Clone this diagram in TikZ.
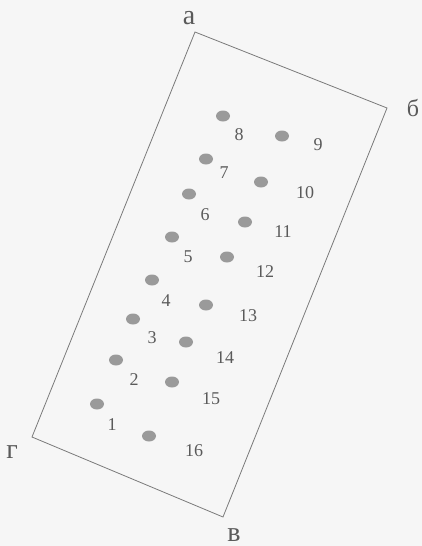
\documentclass[tikz,border=0pt]{standalone}
\usepackage{fontspec}
\setmainfont{Liberation Serif}
\usetikzlibrary{shapes.geometric}
\definecolor{Paper}{HTML}{F6F6F6}
\definecolor{Ink}{HTML}{5A5A5A}
\definecolor{Edge}{HTML}{7A7A7A}
\definecolor{Hole}{HTML}{9A9A9A}

\begin{document}
\begin{tikzpicture}[
  x=1pt,y=-1pt,
  hole/.style={ellipse,fill=Hole,draw=none,minimum width=14pt,minimum height=11pt,inner sep=0pt},
  num/.style={text=Ink,font=\fontsize{18}{18}\selectfont,inner sep=0pt},
  corner/.style={text=Ink,font=\fontsize{28}{28}\selectfont,inner sep=0pt},
  plot/.style={draw=Edge,line width=0.8pt}
]
\useasboundingbox[fill=Paper] (0,0) rectangle (422,546);
% plot outline
\coordinate (a) at (195,32);
\coordinate (b) at (387,108);
\coordinate (v) at (223,517);
\coordinate (g) at (32,437);
\draw[plot] (a) -- (b) -- (v) -- (g) -- cycle;
\node[corner] (la) at (189,18) {а};
\node[corner,font=\fontsize{24}{24}\selectfont] (lb) at (413,108) {б};
\node[corner] (lv) at (234,535) {в};
\node[corner] (lg) at (12,452) {г};
% holes: number / hole position / label position
\foreach \n/\px/\py/\lx/\ly in {
  1/97/404/112/425, 2/116/360/134/380, 3/133/319/152/338, 4/152/280/166/301,
  5/172/237/188/257, 6/189/194/205/215, 7/206/159/224/173, 8/223/116/239/135,
  9/282/136/318/145, 10/261/182/305/193, 11/245/222/283/232, 12/227/257/265/272,
  13/206/305/248/316, 14/186/342/225/358, 15/172/382/211/399, 16/149/436/194/451}{
  \node[hole] (h\n) at (\px,\py) {};
  \node[num] (t\n) at (\lx,\ly) {\n};
}
\end{tikzpicture}
\end{document}
